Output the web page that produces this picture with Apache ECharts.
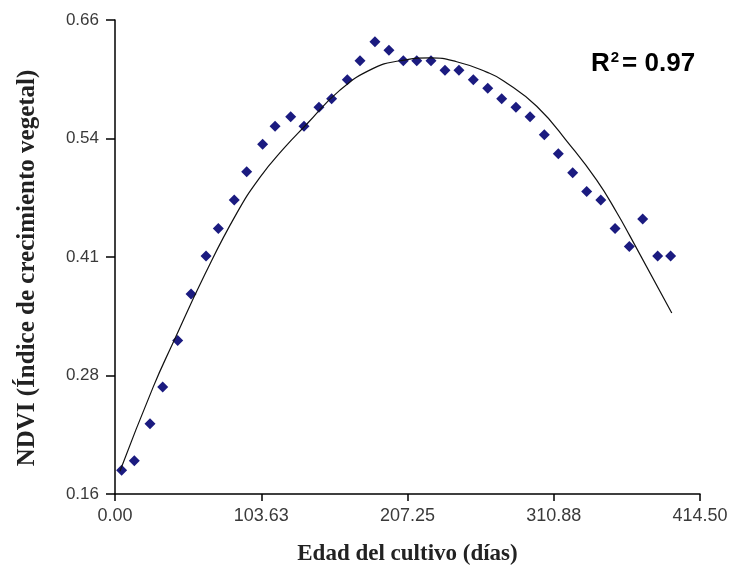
<!DOCTYPE html>
<html>
<head>
<meta charset="utf-8">
<script src="https://cdn.jsdelivr.net/npm/echarts@6/dist/echarts.min.js"></script>
<style>html,body{margin:0;padding:0;background:#fff;}#c{width:737px;height:571px;}</style>
</head>
<body>
<div id="c"></div>
<script>
var xTickLabels = ['0.00', '103.63', '207.25', '310.88', '414.50'];
var yTickLabels = ['0.16', '0.28', '0.41', '0.54', '0.66'];

var obsDays = [4.7, 13.7, 24.8, 33.8, 44.4, 53.9, 64.5, 73.2, 84.5, 93.3, 104.6, 113.4, 124.5, 133.9, 144.5, 153.5, 164.6, 173.6, 184.2, 194.1, 204.3, 213.8, 223.9, 233.8, 243.7, 253.9, 264.1, 274.0, 284.1, 294.1, 304.2, 314.1, 324.3, 334.2, 344.2, 354.3, 364.4, 373.9, 384.5, 393.7];
var obsNdvi = [0.185, 0.195, 0.234, 0.273, 0.322, 0.371, 0.411, 0.440, 0.470, 0.500, 0.529, 0.548, 0.558, 0.548, 0.568, 0.577, 0.597, 0.617, 0.637, 0.628, 0.617, 0.617, 0.617, 0.607, 0.607, 0.597, 0.588, 0.577, 0.568, 0.558, 0.539, 0.519, 0.499, 0.479, 0.470, 0.440, 0.421, 0.450, 0.411, 0.411];

var fitDays = [3.5, 27.1, 41.3, 63.8, 86.2, 102.7, 119.3, 135.8, 159.4, 183.0, 201.9, 223.2, 242.1, 263.4, 275.1, 298.8, 322.4, 341.3, 355.5, 364.9, 394.5];
var fitNdvi = [0.184, 0.273, 0.320, 0.392, 0.456, 0.494, 0.524, 0.550, 0.586, 0.609, 0.617, 0.620, 0.616, 0.605, 0.596, 0.569, 0.528, 0.491, 0.457, 0.432, 0.351];

var chart = echarts.init(document.getElementById('c'), null, {renderer: 'canvas'});
var obs = obsDays.map(function (d, i) { return [d, obsNdvi[i]]; });
var fit = fitDays.map(function (d, i) { return [d, fitNdvi[i]]; });

chart.setOption({
  animation: false,
  backgroundColor: '#ffffff',
  grid: {left: 115, right: 37, top: 20, bottom: 74, containLabel: false},
  xAxis: {
    type: 'value', min: 0, max: 414.5, interval: 103.625,
    splitLine: {show: false},
    axisLine: {show: true, onZero: false, lineStyle: {color: '#000', width: 1.5}},
    axisTick: {show: true, length: 7, lineStyle: {color: '#000', width: 1.5}},
    axisLabel: {
      color: '#3a3a3a', fontFamily: 'Liberation Sans, Arial', fontSize: 18, margin: 13,
      formatter: function (v, i) { return xTickLabels[i]; }
    },
    name: 'Edad del cultivo (días)', nameLocation: 'middle', nameGap: 49,
    nameTextStyle: {color: '#222', fontFamily: 'Liberation Serif, Times New Roman', fontWeight: 'bold', fontSize: 23}
  },
  yAxis: {
    type: 'value', min: 0.16, max: 0.66, interval: 0.125,
    splitLine: {show: false},
    axisLine: {show: true, onZero: false, lineStyle: {color: '#000', width: 1.5}},
    axisTick: {show: true, length: 9, lineStyle: {color: '#000', width: 1.5}},
    axisLabel: {
      color: '#3a3a3a', fontFamily: 'Liberation Sans, Arial', fontSize: 17, margin: 16,
      formatter: function (v, i) { return yTickLabels[i]; }
    }
  },
  series: [
    {
      type: 'line', data: fit, smooth: 0.5, symbol: 'none', z: 3,
      lineStyle: {color: '#111', width: 1.2}
    },
    {
      type: 'scatter', data: obs, symbol: 'diamond', symbolSize: 11, z: 2,
      itemStyle: {color: '#1b1b80', opacity: 1}
    }
  ],
  graphic: [
    {
      type: 'text', x: 28, y: 268, rotation: Math.PI / 2,
      style: {
        text: 'NDVI (Índice de crecimiento vegetal)',
        fontFamily: 'Liberation Serif, Times New Roman', fontWeight: 'bold', fontSize: 25,
        fill: '#222', align: 'center', verticalAlign: 'middle'
      }
    },
    {
      type: 'text', left: 591, top: 50,
      style: {
        rich: {
          b: {fontFamily: 'Liberation Sans, Arial', fontWeight: 'bold', fontSize: 26, fill: '#000'},
          s: {fontFamily: 'Liberation Sans, Arial', fontWeight: 'bold', fontSize: 15, fill: '#000', verticalAlign: 'top', padding: [0, 3, 12, 1]}
        },
        text: '{b|R}{s|2}{b|= 0.97}'
      }
    }
  ]
});
</script>
</body>
</html>
